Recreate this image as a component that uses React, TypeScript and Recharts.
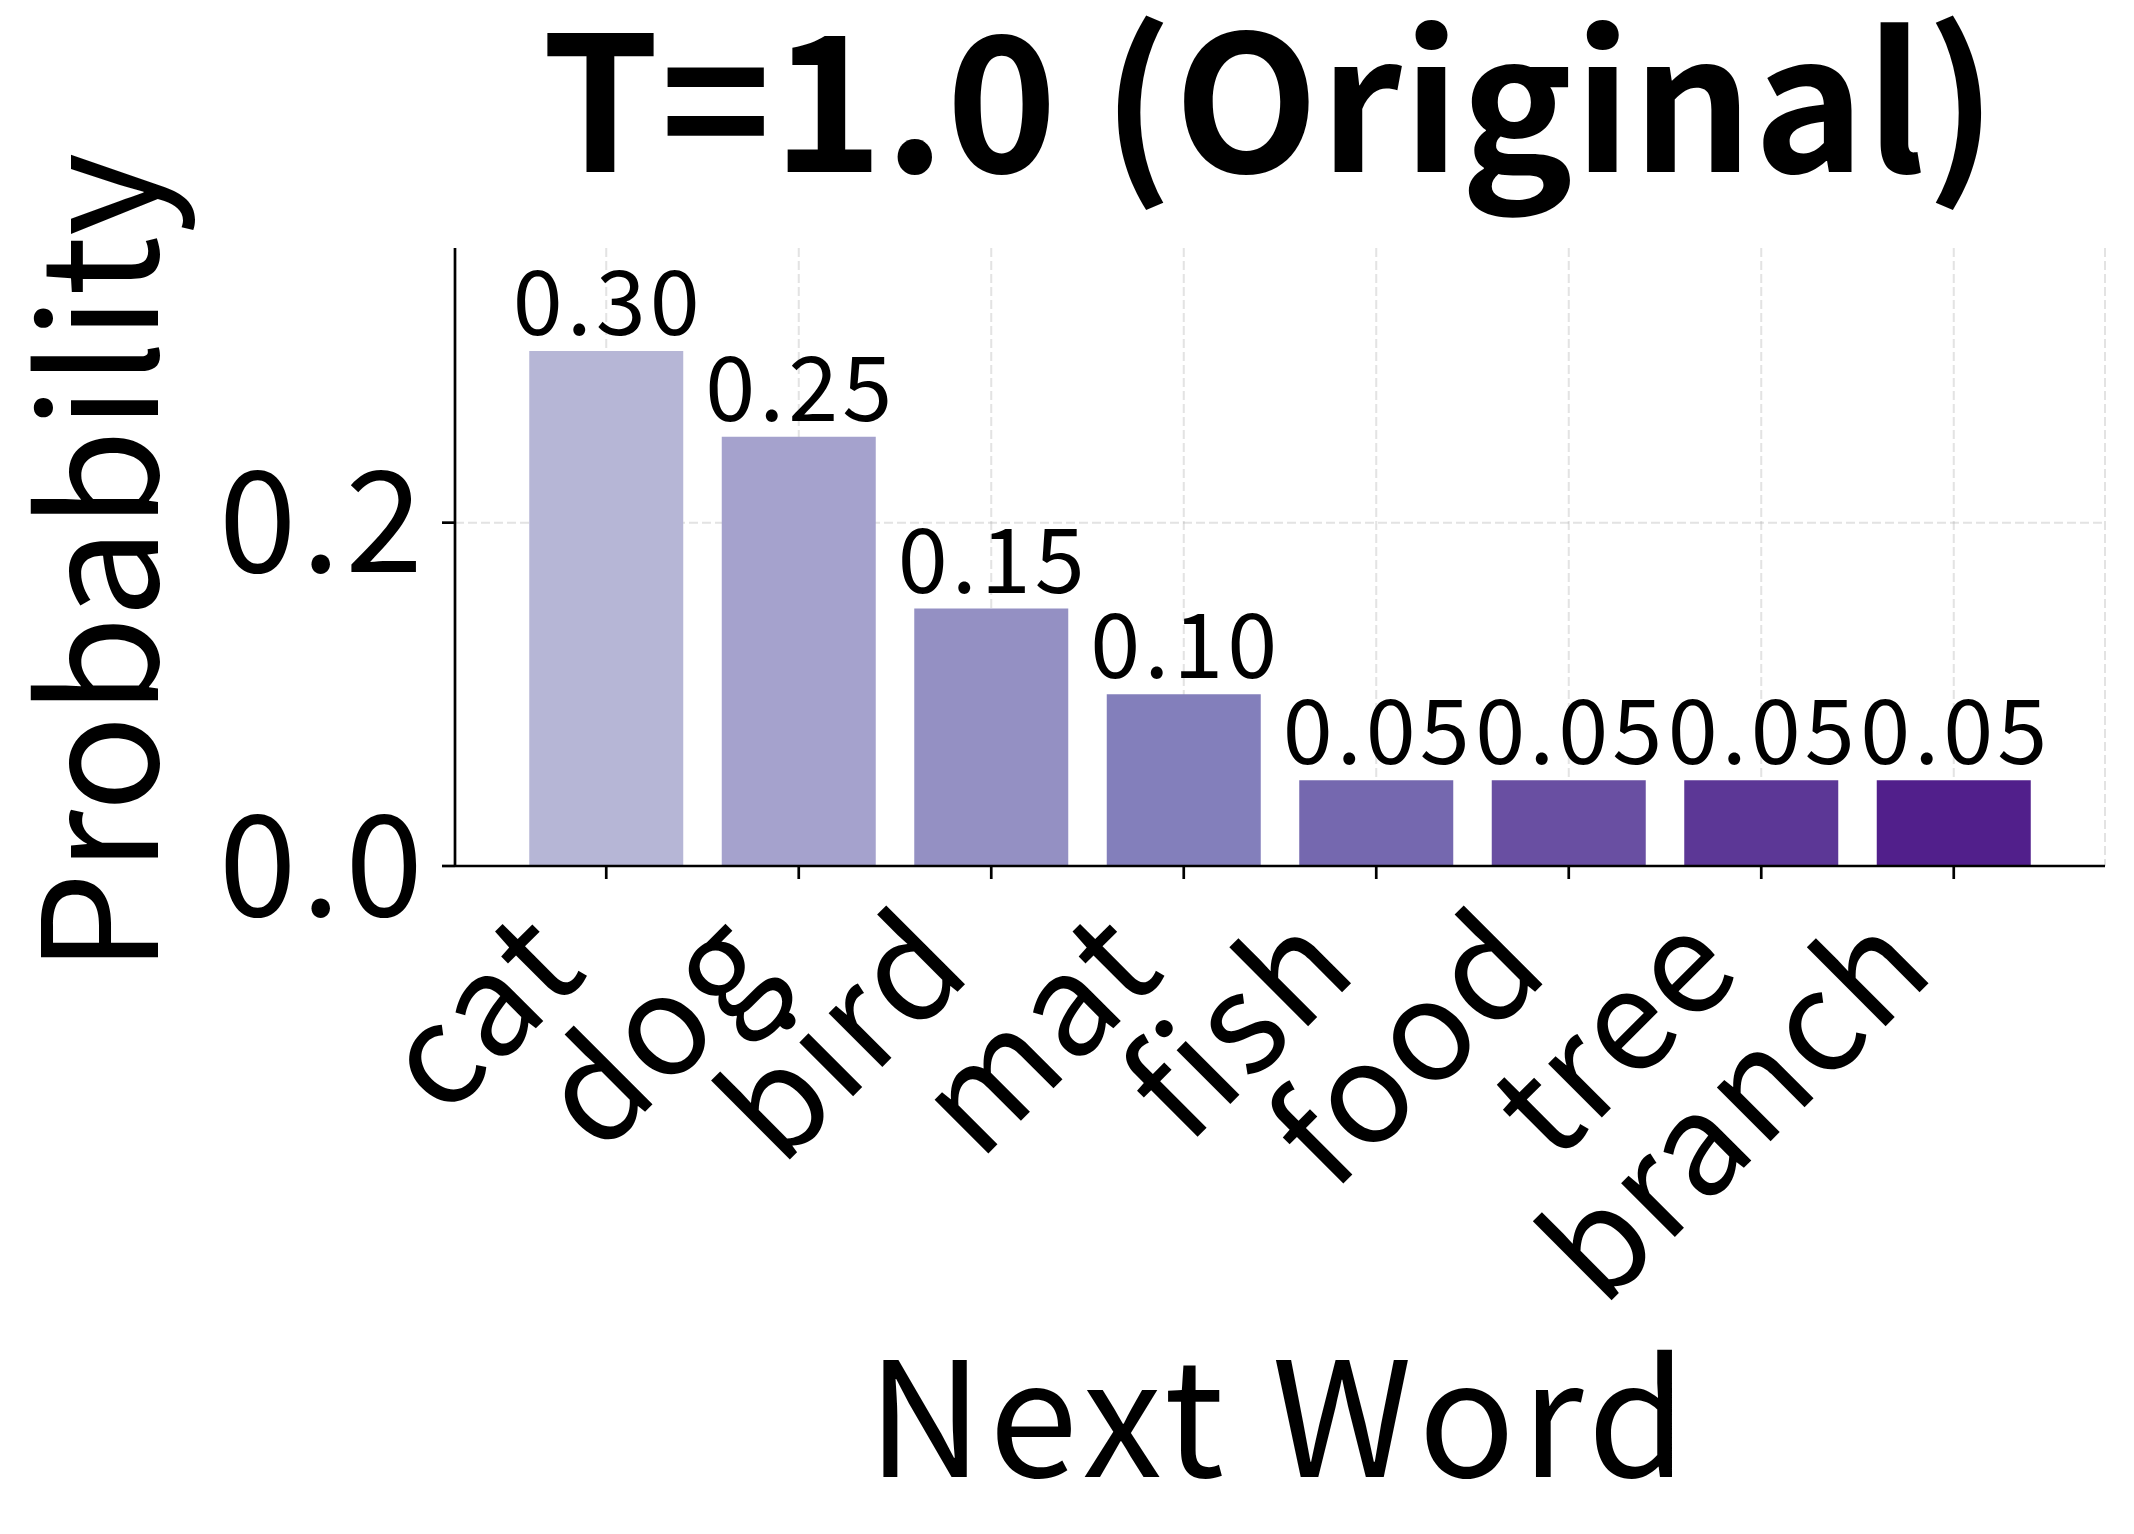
import { BarChart, Bar, XAxis, YAxis, CartesianGrid, Cell, LabelList, Label } from "recharts";

const words = ["cat", "dog", "bird", "mat", "fish", "food", "tree", "branch"];
const probs = [0.3, 0.25, 0.15, 0.1, 0.05, 0.05, 0.05, 0.05];
// Purples colormap sampled from 0.4 to 0.9
const barColors = ["#b6b6d6", "#a5a2cd", "#9490c3", "#837fbb", "#7568af", "#694fa2", "#5c3796", "#511f8b"];
const yTicks = [0, 0.2];
const yMax = 0.36;

const data = words.map((w, i) => ({ word: w, p: probs[i] }));

const FONT = "'Noto Sans CJK JP', 'Noto Sans', sans-serif";
const W = 2134;
const H = 1534;

function WordTick({ x, y, payload }: any) {
  // anchor at end of word, rotated 45deg
  const ax = x - 15;
  const ay = y + 94;
  return (
    <text
      x={ax}
      y={ay}
      transform={`rotate(-45 ${ax} ${ay})`}
      textAnchor="end"
      fontSize={140}
      fontFamily={FONT}
      letterSpacing={3}
      fill="#000"
    >
      {payload.value}
    </text>
  );
}

function ValueLabel({ x, y, width, value }: any) {
  return (
    <text
      x={x + width / 2 + 2}
      y={y - 16}
      textAnchor="middle"
      fontSize={90}
      fontFamily={FONT}
      letterSpacing={4}
      fill="#000"
    >
      {Number(value).toFixed(2)}
    </text>
  );
}

export default function App() {
  return (
    <div style={{ position: "absolute", left: 0, top: 0, width: W, height: H, background: "#fff" }}>
      <BarChart
        width={W}
        height={H}
        data={data}
        margin={{ top: 248, right: 29, left: 255, bottom: 608 }}
        barCategoryGap="10%"
      >
        <XAxis
          dataKey="word"
          interval={0}
          padding={{ left: 55, right: 55 }}
          height={60}
          axisLine={{ stroke: "#000", strokeWidth: 2.7 }}
          tickLine={{ stroke: "#000", strokeWidth: 2.7 }}
          tickSize={13}
          tickMargin={0}
          tick={<WordTick />}
        >
          <Label
            content={({ viewBox }: any) => (
              <text
                x={viewBox.x + viewBox.width / 2}
                y={viewBox.y + 611}
                textAnchor="middle"
                fontSize={160}
                fontFamily={FONT}
                letterSpacing={6}
                fill="#000"
              >
                Next Word
              </text>
            )}
          />
        </XAxis>
        <YAxis
          width={200}
          domain={[0, yMax]}
          ticks={yTicks}
          tickFormatter={(v: number) => v.toFixed(1)}
          axisLine={{ stroke: "#000", strokeWidth: 2.7 }}
          tickLine={{ stroke: "#000", strokeWidth: 2.7 }}
          tickSize={13}
          tickMargin={14}
          tick={{ fontSize: 140, fontFamily: FONT, fill: "#000", letterSpacing: 5 }}
        >
          <Label
            content={({ viewBox }: any) => {
              const cx = 158;
              const cy = viewBox.y + viewBox.height / 2 + 6;
              return (
                <text
                  x={cx}
                  y={cy}
                  transform={`rotate(-90 ${cx} ${cy})`}
                  textAnchor="middle"
                  fontSize={160}
                  fontFamily={FONT}
                  fill="#000"
                >
                  Probability
                </text>
              );
            }}
          />
        </YAxis>
        <Bar dataKey="p" isAnimationActive={false}>
          {data.map((d, i) => (
            <Cell key={d.word} fill={barColors[i]} />
          ))}
          <LabelList dataKey="p" content={<ValueLabel />} />
        </Bar>
        <CartesianGrid
          horizontalValues={yTicks}
          stroke="#b0b0b0"
          strokeOpacity={0.35}
          strokeWidth={2}
          strokeDasharray="9 4"
        />
      </BarChart>
      <svg width={W} height={H} style={{ position: "absolute", left: 0, top: 0, pointerEvents: "none" }}>
        <text
          x={1270}
          y={172}
          textAnchor="middle"
          fontSize={188}
          fontWeight="bold"
          fontFamily={FONT}
          letterSpacing={1}
          fill="#000"
        >
          T=1.0 (Original)
        </text>
      </svg>
    </div>
  );
}
